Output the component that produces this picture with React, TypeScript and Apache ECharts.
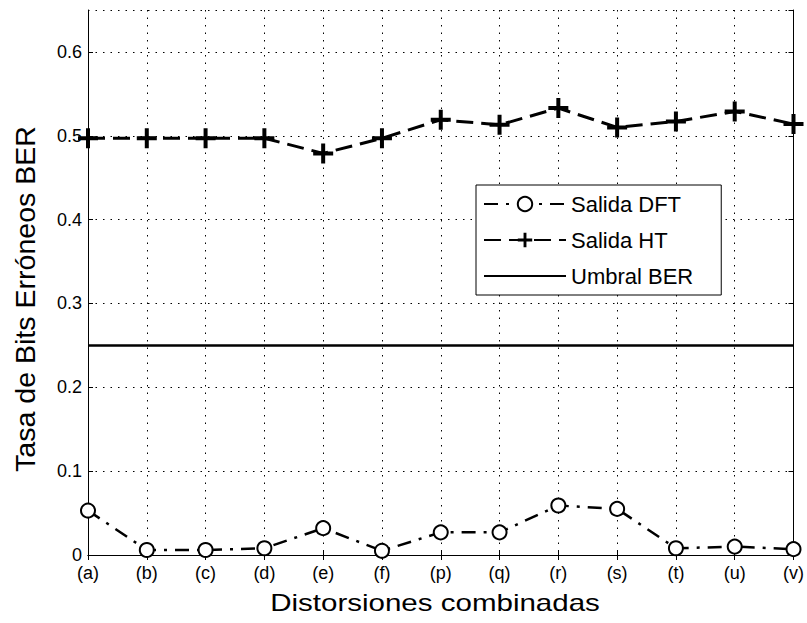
import React, { useEffect, useRef } from "react";
import * as echarts from "echarts";

// Combined distortion cases on the horizontal axis
const categories = ["(a)", "(b)", "(c)", "(d)", "(e)", "(f)", "(p)", "(q)", "(r)", "(s)", "(t)", "(u)", "(v)"];

// Bit error rate of each detector output
const salidaDFT = [0.053, 0.006, 0.006, 0.008, 0.032, 0.005, 0.027, 0.027, 0.059, 0.055, 0.008, 0.010, 0.007];
const salidaHT = [0.497, 0.497, 0.497, 0.497, 0.479, 0.497, 0.519, 0.513, 0.533, 0.510, 0.517, 0.529, 0.514];

// BER threshold
const umbralBER = [0.25, 0.25, 0.25, 0.25, 0.25, 0.25, 0.25, 0.25, 0.25, 0.25, 0.25, 0.25, 0.25];

const yTicks = [0, 0.1, 0.2, 0.3, 0.4, 0.5, 0.6];

const FONT = "'Liberation Sans', Arial, Helvetica, sans-serif";
const PLUS = "path://M4,0H6V4H10V6H6V10H4V6H0V4H4Z";

export default function App() {
  const ref = useRef<HTMLDivElement>(null);

  useEffect(() => {
    document.body.style.margin = "0";
    if (!ref.current) return;
    const chart = echarts.init(ref.current, undefined, { renderer: "svg" });

    const dotted = { color: "#000", width: 1, type: [1.5, 6] as number[] };

    chart.setOption({
      animation: false,
      backgroundColor: "#fff",
      textStyle: { fontFamily: FONT, color: "#000" },
      grid: { left: 88, right: 12, top: 10, bottom: 68, containLabel: false },
      legend: {
        left: 476,
        top: 185,
        orient: "vertical",
        backgroundColor: "#fff",
        borderColor: "#000",
        borderWidth: 1,
        borderRadius: 0,
        padding: [6, 28, 6, 7],
        itemWidth: 82,
        itemHeight: 18,
        itemGap: 10,
        textStyle: { fontFamily: FONT, fontSize: 22, color: "#000", lineHeight: 26 },
        data: [
          "Salida DFT",
          "Salida HT",
          { name: "Umbral BER", itemStyle: { opacity: 0 } },
        ],
      },
      xAxis: [
        {
          type: "category",
          data: categories,
          boundaryGap: false,
          axisLine: { lineStyle: { color: "#000", width: 1 } },
          axisTick: { inside: true, length: 5, lineStyle: { color: "#000" } },
          axisLabel: { fontFamily: FONT, fontSize: 18, color: "#000", margin: 9 },
          splitLine: { show: true, lineStyle: dotted },
        },
        {
          type: "category",
          data: categories,
          position: "top",
          boundaryGap: false,
          axisLine: { lineStyle: { color: "#000", width: 1 } },
          axisTick: { inside: true, length: 5, lineStyle: { color: "#000" } },
          axisLabel: { show: false },
          splitLine: { show: false },
        },
      ],
      yAxis: [
        {
          type: "value",
          min: 0,
          max: 0.65,
          interval: 0.1,
          axisLine: { show: true, lineStyle: { color: "#000", width: 1 } },
          axisTick: { show: true, inside: true, length: 5, lineStyle: { color: "#000" } },
          axisLabel: {
            fontFamily: FONT,
            fontSize: 18,
            color: "#000",
            margin: 6,
            showMaxLabel: false,
            formatter: (v: number) => {
              const t = yTicks.find((k) => Math.abs(k - v) < 1e-6);
              return t === undefined ? "" : String(t);
            },
          },
          splitLine: { show: true, lineStyle: dotted },
        },
        {
          type: "value",
          min: 0,
          max: 0.65,
          interval: 0.1,
          position: "right",
          axisLine: { show: true, lineStyle: { color: "#000", width: 1 } },
          axisTick: { show: true, inside: true, length: 5, lineStyle: { color: "#000" } },
          axisLabel: { show: false },
          splitLine: { show: false },
        },
      ],
      series: [
        {
          name: "Salida DFT",
          type: "line",
          data: salidaDFT,
          symbol: "emptyCircle",
          symbolSize: 14,
          showAllSymbol: true,
          lineStyle: { color: "#000", width: 2.5, type: [14, 8, 3, 8] },
          itemStyle: { color: "#000", borderColor: "#000", borderWidth: 3 },
          z: 3,
        },
        {
          name: "Salida HT",
          type: "line",
          data: salidaHT,
          symbol: PLUS,
          symbolSize: 20,
          showAllSymbol: true,
          lineStyle: { color: "#000", width: 3, type: [17, 8] },
          itemStyle: { color: "#000" },
          z: 3,
        },
        {
          name: "Umbral BER",
          type: "line",
          data: umbralBER,
          symbol: "none",
          lineStyle: { color: "#000", width: 2.5, type: "solid" },
          itemStyle: { color: "#000" },
          z: 3,
        },
      ],
      graphic: [
        {
          type: "text",
          x: 435,
          y: 603,
          scaleX: 1.23,
          style: {
            text: "Distorsiones combinadas",
            fontFamily: FONT,
            fontSize: 24,
            fill: "#000",
            align: "center",
            verticalAlign: "middle",
          },
        },
        {
          type: "text",
          x: 25,
          y: 299,
          rotation: Math.PI / 2,
          scaleX: 1.02,
          style: {
            text: "Tasa de Bits Erróneos BER",
            fontFamily: FONT,
            fontSize: 28,
            fill: "#000",
            align: "center",
            verticalAlign: "middle",
          },
        },
      ],
    });

    return () => chart.dispose();
  }, []);

  return <div ref={ref} style={{ width: 807, height: 623 }} />;
}
